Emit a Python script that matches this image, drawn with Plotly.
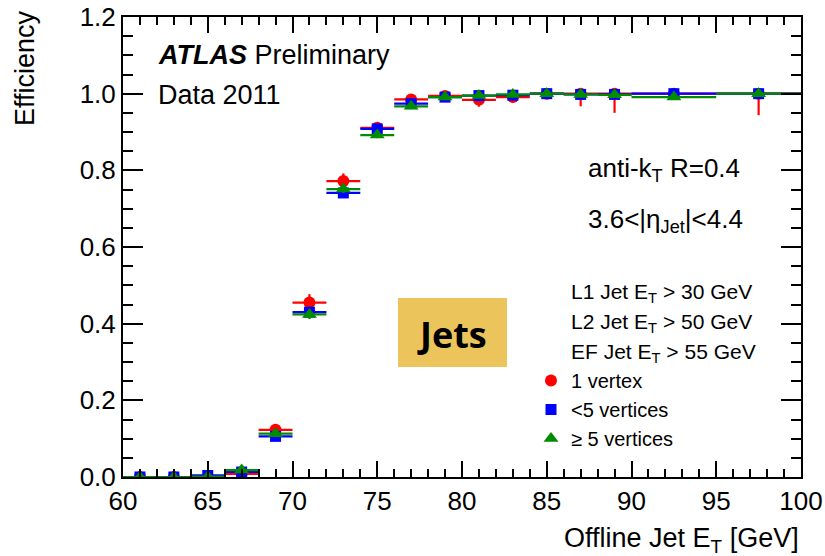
import plotly.graph_objects as go

# Bin centres and half-widths (GeV)
et_centres = [61, 63, 65, 67, 69, 71, 73, 75, 77, 79, 81, 83, 85, 87, 89, 92.5, 97.5]
et_halfwidth = [1, 1, 1, 1, 1, 1, 1, 1, 1, 1, 1, 1, 1, 1, 1, 2.5, 2.5]

# Efficiency for 1 vertex
eff_1vtx = [0.0, 0.0, 0.0, 0.008, 0.123, 0.455, 0.772, 0.911, 0.985, 0.994, 0.984, 0.991, 1.0, 1.0, 1.0, 1.0, 1.0]
err_up_1vtx = [0.0, 0.002, 0.002, 0.006, 0.012, 0.022, 0.02, 0.012, 0.006, 0.004, 0.008, 0.005, 0.0, 0.0, 0.0, 0.0, 0.0]
err_dn_1vtx = [0.0, 0.0, 0.0, 0.005, 0.012, 0.022, 0.02, 0.012, 0.008, 0.006, 0.018, 0.014, 0.006, 0.033, 0.05, 0.008, 0.056]

# Efficiency for <5 vertices
eff_lt5 = [0.0, 0.0, 0.004, 0.013, 0.106, 0.430, 0.741, 0.908, 0.974, 0.991, 0.995, 0.996, 1.0, 0.998, 0.998, 1.0, 1.0]
err_up_lt5 = [0.001, 0.001, 0.002, 0.004, 0.006, 0.01, 0.008, 0.006, 0.004, 0.003, 0.003, 0.002, 0.0, 0.002, 0.002, 0.0, 0.0]
err_dn_lt5 = [0.0, 0.0, 0.002, 0.004, 0.006, 0.01, 0.008, 0.006, 0.004, 0.003, 0.004, 0.003, 0.002, 0.004, 0.005, 0.003, 0.006]

# Efficiency for >=5 vertices
eff_ge5 = [0.0, 0.0, 0.001, 0.018, 0.113, 0.424, 0.751, 0.892, 0.967, 0.991, 0.995, 0.998, 1.0, 0.998, 0.997, 0.991, 1.0]
err_up_ge5 = [0.001, 0.001, 0.002, 0.005, 0.008, 0.012, 0.01, 0.008, 0.005, 0.003, 0.003, 0.002, 0.0, 0.002, 0.002, 0.003, 0.0]
err_dn_ge5 = [0.0, 0.0, 0.001, 0.005, 0.008, 0.012, 0.01, 0.008, 0.005, 0.004, 0.004, 0.003, 0.002, 0.004, 0.005, 0.005, 0.008]

series = [
    ("1 vertex", eff_1vtx, err_up_1vtx, err_dn_1vtx, "#ff0000", "circle", 12),
    ("<5 vertices", eff_lt5, err_up_lt5, err_dn_lt5, "#0000ff", "square", 11),
    ("\u2265 5 vertices", eff_ge5, err_up_ge5, err_dn_ge5, "#008c00", "triangle-up", 13),
]

FONT = "Liberation Sans, Arial, Helvetica, sans-serif"

fig = go.Figure()
for name, eff, eu, ed, col, sym, size in series:
    fig.add_trace(go.Scatter(
        x=et_centres, y=eff, mode="markers", name=name,
        marker=dict(color=col, symbol=sym, size=size, line=dict(width=0)),
        error_x=dict(type="data", array=et_halfwidth, color=col, thickness=2.2, width=0),
        error_y=dict(type="data", symmetric=False, array=eu, arrayminus=ed,
                     color=col, thickness=2.2, width=0),
    ))

axis_common = dict(
    showline=True, linecolor="black", linewidth=2, mirror="allticks",
    ticks="inside", tickcolor="black", tickwidth=1.5,
    showgrid=False, zeroline=False, automargin=False,
    tickfont=dict(family=FONT, size=26, color="black"),
)

fig.update_xaxes(range=[60, 100], dtick=5, tick0=60, ticklen=16,
                 minor=dict(dtick=1, ticks="inside", ticklen=8, tickcolor="black", tickwidth=1.5),
                 **axis_common)
fig.update_yaxes(range=[0, 1.2], dtick=0.2, tick0=0, ticklen=20, tickformat=".1f",
                 minor=dict(dtick=0.05, ticks="inside", ticklen=10, tickcolor="black", tickwidth=1.5),
                 **axis_common)

ann = []
ann.append(dict(text="<b><i>ATLAS</i></b> Preliminary", xref="paper", yref="paper",
                x=(156 - 123) / 678, y=(477 - 55) / 460, xanchor="left", yanchor="middle",
                showarrow=False, font=dict(family=FONT, size=27, color="black")))
ann.append(dict(text="Data 2011", xref="paper", yref="paper",
                x=(156 - 123) / 678, y=(477 - 95) / 460, xanchor="left", yanchor="middle",
                showarrow=False, font=dict(family=FONT, size=27, color="black")))
ann.append(dict(text="anti-k<sub>T</sub> R=0.4", xref="paper", yref="paper",
                x=(586 - 123) / 678, y=(477 - 170) / 460, xanchor="left", yanchor="middle",
                showarrow=False, font=dict(family=FONT, size=26, color="black")))
ann.append(dict(text="3.6<|\u03b7<sub>Jet</sub>|<4.4", xref="paper", yref="paper",
                x=(586 - 123) / 678, y=(477 - 220) / 460, xanchor="left", yanchor="middle",
                showarrow=False, font=dict(family=FONT, size=26, color="black")))
for i, thr in enumerate(["L1 Jet E<sub>T</sub> > 30 GeV", "L2 Jet E<sub>T</sub> > 50 GeV",
                         "EF Jet E<sub>T</sub> > 55 GeV"]):
    ann.append(dict(text=thr, xref="paper", yref="paper",
                    x=(569 - 123) / 678, y=(477 - (293 + 30 * i)) / 460,
                    xanchor="left", yanchor="middle", showarrow=False,
                    font=dict(family=FONT, size=21, color="black")))
ann.append(dict(text="Efficiency", xref="paper", yref="paper", textangle=-90,
                x=(25 - 123) / 678, y=(477 - 8) / 460, xanchor="center", yanchor="top",
                showarrow=False, font=dict(family=FONT, size=27, color="black")))
ann.append(dict(text="Offline Jet E<sub>T</sub> [GeV]", xref="paper", yref="paper",
                x=1.0, y=(477 - 540) / 460, xanchor="right", yanchor="middle",
                showarrow=False, font=dict(family=FONT, size=27, color="black")))
ann.append(dict(text="<b>Jets</b>", xref="paper", yref="paper",
                x=(452 - 123) / 678, y=(477 - 334) / 460, xanchor="center", yanchor="middle",
                showarrow=False, font=dict(family="Open Sans, sans-serif", size=36, color="black")))

fig.add_shape(type="rect", xref="paper", yref="paper",
              x0=(398 - 123) / 678, x1=(507 - 123) / 678,
              y0=(477 - 367) / 460, y1=(477 - 298) / 460,
              fillcolor="#ebc45c", line=dict(width=0), layer="below")

fig.update_layout(
    width=825, height=556,
    margin=dict(l=123, r=24, t=17, b=79, autoexpand=False),
    paper_bgcolor="white", plot_bgcolor="white",
    annotations=ann,
    showlegend=True,
    legend=dict(x=(531 - 123) / 678, y=(477 - 361) / 460, xanchor="left", yanchor="top",
                bgcolor="rgba(0,0,0,0)", font=dict(family=FONT, size=20, color="black"),
                tracegroupgap=0, itemsizing="trace"),
)

fig.write_html("out.html")
